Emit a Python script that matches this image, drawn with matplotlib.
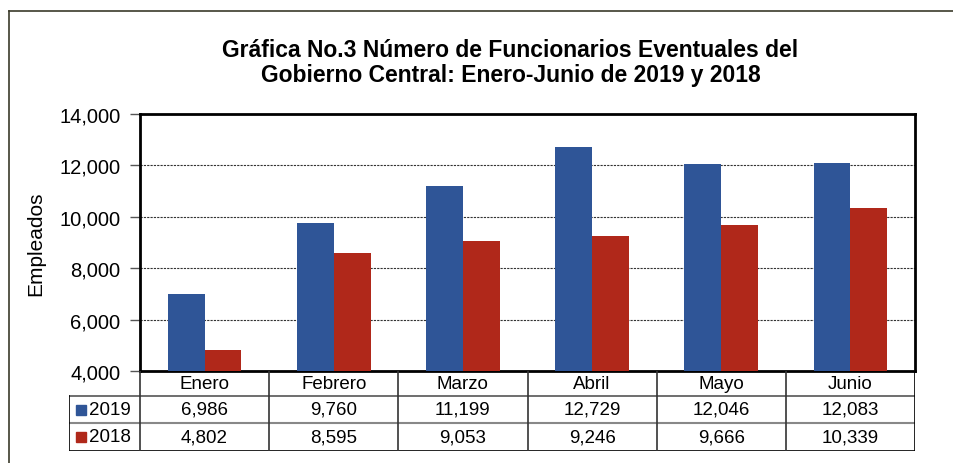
import matplotlib.pyplot as plt
from matplotlib.lines import Line2D
from matplotlib.patches import Rectangle
import numpy as np

plt.rcParams['font.family'] = ['Liberation Sans', 'DejaVu Sans']

meses = ["Enero", "Febrero", "Marzo", "Abril", "Mayo", "Junio"]
series = ["2019", "2018"]
v2019 = [6986, 9760, 11199, 12729, 12046, 12083]
v2018 = [4802, 8595, 9053, 9246, 9666, 10339]
colores = ["#2F5597", "#B0281A"]

W, H = 954, 464
fig = plt.figure(figsize=(W / 100, H / 100), dpi=100)

# marco exterior
fig.add_artist(Line2D([9 / W, 1], [1 - 12 / H, 1 - 12 / H], color="#3b3b2b", lw=1.2))
fig.add_artist(Line2D([9 / W, 9 / W], [0, 1 - 12 / H], color="#3b3b2b", lw=1.2))

fig.text(0.535, 1 - 63 / H, "Gráfica No.3 Número de Funcionarios Eventuales del\nGobierno Central: Enero-Junio de 2019 y 2018",
         ha="center", va="center", fontsize=16.5, fontweight="bold", linespacing=1.08)

ax = fig.add_axes([140 / W, (H - 372) / H, 775 / W, (372 - 115) / H])
x = np.arange(len(meses))
bw = 0.285
ax.bar(x - bw / 2, v2019, bw, color=colores[0], zorder=3)
ax.bar(x + bw / 2, v2018, bw, color=colores[1], zorder=3)
ax.set_xlim(-0.5, 5.5)
ax.set_ylim(4000, 14000)
ax.set_yticks(np.arange(4000, 14001, 2000))
ax.set_yticklabels([f"{t:,}" for t in range(4000, 14001, 2000)], fontsize=14.5)
ax.set_xticks([])
ax.tick_params(axis="y", length=7, width=1, direction="out", pad=7, color="#555555")
ax.yaxis.grid(True, linestyle=(0, (2, 1)), color="#333333", lw=0.8, zorder=0)
for s in ax.spines.values():
    s.set_linewidth(2)
    s.set_color("black")
ax.set_ylabel("Empleados", fontsize=15, labelpad=10)

# tabla de datos
px = 775 / 6
x0 = -0.5 - 71 / px
tax = fig.add_axes([69 / W, (H - 452) / H, (915 - 69) / W, 80 / H])
tax.set_xlim(x0, 5.5)
tax.set_ylim(80, 0)
tax.axis("off")
for i, m in enumerate(meses):
    tax.text(i, 12.5, m, ha="center", va="center", fontsize=13.5)
    tax.text(i, 38.5, f"{v2019[i]:,}", ha="center", va="center", fontsize=13.5)
    tax.text(i, 66, f"{v2018[i]:,}", ha="center", va="center", fontsize=13.5)
for j, (s, c) in enumerate(zip(series, colores)):
    yc = 38.5 if j == 0 else 66
    tax.add_patch(Rectangle((x0 + 7 / px, yc - 5), 10 / px, 10, color=c, clip_on=False))
    tax.text(x0 + 20 / px, yc, s, ha="left", va="center", fontsize=13.5)
# lineas de la tabla
tax.plot([x0, 5.5], [52, 52], color="#888888", lw=1.5)
tax.plot([x0, 5.5], [25, 25], color="#555555", lw=1.2)
tax.plot([x0, 5.5], [80, 80], color="black", lw=1.2)
tax.plot([x0, x0], [25, 80], color="black", lw=1.2)
tax.plot([5.5, 5.5], [0, 80], color="black", lw=1.2)
for i in range(6):
    tax.plot([i - 0.5, i - 0.5], [0, 80], color="#333333", lw=1.2)

fig.savefig("out.png", dpi=100)
